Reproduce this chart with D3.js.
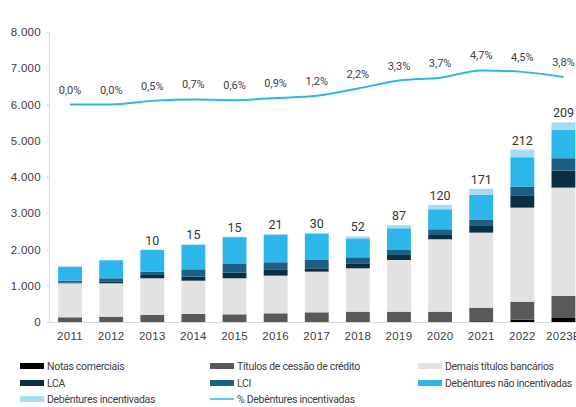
<!DOCTYPE html>
<html lang="pt">
<head>
    <meta charset="UTF-8">
    <title>Emissões</title>
    <script src="https://d3js.org/d3.v7.min.js"></script>
    <style>
        body { margin: 0; background: white; }
        svg { display: block; font-family: Roboto, "Open Sans", sans-serif; }
        .tick-label { font-size: 11.5px; fill: #404040; letter-spacing: 0.3px; }
        .legend-text { font-size: 10.5px; fill: #404040; letter-spacing: -0.3px; }
    </style>
</head>
<body>
<div id="chart"></div>
<script>
    // Data (R$ bi)
    const years = ['2011', '2012', '2013', '2014', '2015', '2016', '2017', '2018', '2019', '2020', '2021', '2022', '2023E'];
    const notasComerciais = [0, 0, 0, 0, 0, 0, 0, 0, 0, 0, 20, 65, 110];
    const titulosCessao   = [130, 146, 193, 221, 212, 239, 267, 285, 285, 285, 375, 495, 608];
    const demaisTitulos   = [938, 922, 1013, 919, 994, 1040, 1122, 1196, 1426, 1997, 2070, 2595, 2989];
    const lca             = [20, 40, 91, 110, 155, 175, 92, 138, 138, 119, 185, 323, 469];
    const lci             = [52, 98, 92, 204, 240, 194, 230, 166, 138, 157, 165, 257, 342];
    const debNaoIncent    = [386, 497, 598, 675, 739, 760, 718, 523, 599, 552, 690, 811, 781];
    const debIncent       = [0, 0, 10, 15, 15, 21, 30, 52, 87, 120, 171, 212, 209];
    const pctDebIncent    = [0.0, 0.0, 0.5, 0.7, 0.6, 0.9, 1.2, 2.2, 3.3, 3.7, 4.7, 4.5, 3.8];
    const yTicks = [0, 1000, 2000, 3000, 4000, 5000, 6000, 7000, 8000];

    const series = [
        { name: 'Notas comerciais', values: notasComerciais, color: '#000000' },
        { name: 'Títulos de cessão de crédito', values: titulosCessao, color: '#595959' },
        { name: 'Demais títulos bancários', values: demaisTitulos, color: '#e2e2e2' },
        { name: 'LCA', values: lca, color: '#0b2e43' },
        { name: 'LCI', values: lci, color: '#1b5f82' },
        { name: 'Debêntures não incentivadas', values: debNaoIncent, color: '#2db6ea' },
        { name: 'Debêntures incentivadas', values: debIncent, color: '#a9dcf2' }
    ];

    const br = d3.formatLocale({ decimal: ',', thousands: '.', grouping: [3], currency: ['R$', ''] });
    const fmtThousands = br.format(',.0f');
    const fmtPct = br.format('.1f');

    const width = 576, height = 407;
    const svg = d3.select('#chart').append('svg')
        .attr('width', width)
        .attr('height', height);

    const x = d3.scaleBand()
        .domain(years)
        .range([49.5, 584])
        .paddingInner(0.42)
        .paddingOuter(0.21);

    const y = d3.scaleLinear()
        .domain([0, 8000])
        .range([322, 32]);

    // hidden secondary axis for the % line
    const y2 = d3.scaleLinear()
        .domain([-30, 10])
        .range([322, 32]);

    // stacked table
    const table = years.map((yr, i) => {
        const row = { year: yr };
        series.forEach(s => { row[s.name] = s.values[i]; });
        return row;
    });
    const stack = d3.stack().keys(series.map(s => s.name));
    const layers = stack(table);

    // Y axis
    const yAxis = svg.append('g')
        .attr('transform', 'translate(49,0)')
        .call(d3.axisLeft(y).tickValues(yTicks).tickSize(3).tickPadding(5).tickFormat(fmtThousands));
    yAxis.select('.domain').attr('stroke', '#d9d9d9');
    yAxis.selectAll('.tick line').attr('stroke', '#d9d9d9');
    yAxis.selectAll('.tick text').attr('class', 'tick-label');

    // X baseline + labels
    const xAxis = svg.append('g')
        .attr('transform', 'translate(0,322)')
        .call(d3.axisBottom(x).tickSize(0).tickPadding(10));
    xAxis.select('.domain').attr('stroke', '#d9d9d9');
    xAxis.selectAll('.tick text').attr('class', 'tick-label');

    // Bars
    svg.append('g').selectAll('g')
        .data(layers)
        .enter()
        .append('g')
        .attr('fill', (d, i) => series[i].color)
        .selectAll('rect')
        .data(d => d)
        .enter()
        .append('rect')
        .attr('x', d => x(d.data.year))
        .attr('width', x.bandwidth())
        .attr('y', d => y(d[1]))
        .attr('height', d => y(d[0]) - y(d[1]));

    // Labels with Debêntures incentivadas on top of bars
    const topLayer = layers[layers.length - 1];
    svg.append('g').selectAll('text')
        .data(topLayer.filter((d, i) => debIncent[i] > 0))
        .enter()
        .append('text')
        .attr('x', d => x(d.data.year) + x.bandwidth() / 2)
        .attr('y', d => y(d[1]) - 5)
        .attr('text-anchor', 'middle')
        .attr('font-size', '12.5px')
        .attr('fill', '#333')
        .text(d => d.data['Debêntures incentivadas']);

    // % line
    const line = d3.line()
        .x((d, i) => x(years[i]) + x.bandwidth() / 2)
        .y(d => y2(d))
        .curve(d3.curveMonotoneX);

    svg.append('path')
        .datum(pctDebIncent)
        .attr('fill', 'none')
        .attr('stroke', '#2db6ea')
        .attr('stroke-width', 2)
        .attr('d', line);

    svg.append('g').selectAll('text')
        .data(pctDebIncent)
        .enter()
        .append('text')
        .attr('x', (d, i) => x(years[i]) + x.bandwidth() / 2)
        .attr('y', d => y2(d) - 11)
        .attr('text-anchor', 'middle')
        .attr('font-size', '11px')
        .attr('fill', '#404040')
        .text(d => fmtPct(d) + '%');

    // Legend
    const legendItems = [
        { name: 'Notas comerciais', color: '#000000', col: 0, row: 0 },
        { name: 'Títulos de cessão de crédito', color: '#595959', col: 1, row: 0 },
        { name: 'Demais títulos bancários', color: '#e2e2e2', col: 2, row: 0 },
        { name: 'LCA', color: '#0b2e43', col: 0, row: 1 },
        { name: 'LCI', color: '#1b5f82', col: 1, row: 1 },
        { name: 'Debêntures não incentivadas', color: '#2db6ea', col: 2, row: 1 },
        { name: 'Debêntures incentivadas', color: '#a9dcf2', col: 0, row: 2 },
        { name: '% Debêntures incentivadas', color: '#2db6ea', col: 1, row: 2, line: true }
    ];
    const colX = [20, 210, 418];
    const rowY = [366, 383, 399];

    const legend = svg.append('g').selectAll('g')
        .data(legendItems)
        .enter()
        .append('g')
        .attr('transform', d => `translate(${colX[d.col]},${rowY[d.row]})`);

    legend.filter(d => !d.line).append('rect')
        .attr('x', 0).attr('y', -3)
        .attr('width', 24).attr('height', 6)
        .attr('fill', d => d.color);

    legend.filter(d => d.line).append('line')
        .attr('x1', 0).attr('x2', 24)
        .attr('y1', 0).attr('y2', 0)
        .attr('stroke', d => d.color)
        .attr('stroke-width', 1.5);

    legend.append('text')
        .attr('class', 'legend-text')
        .attr('x', 27)
        .attr('dy', '0.35em')
        .text(d => d.name);
</script>
</body>
</html>
